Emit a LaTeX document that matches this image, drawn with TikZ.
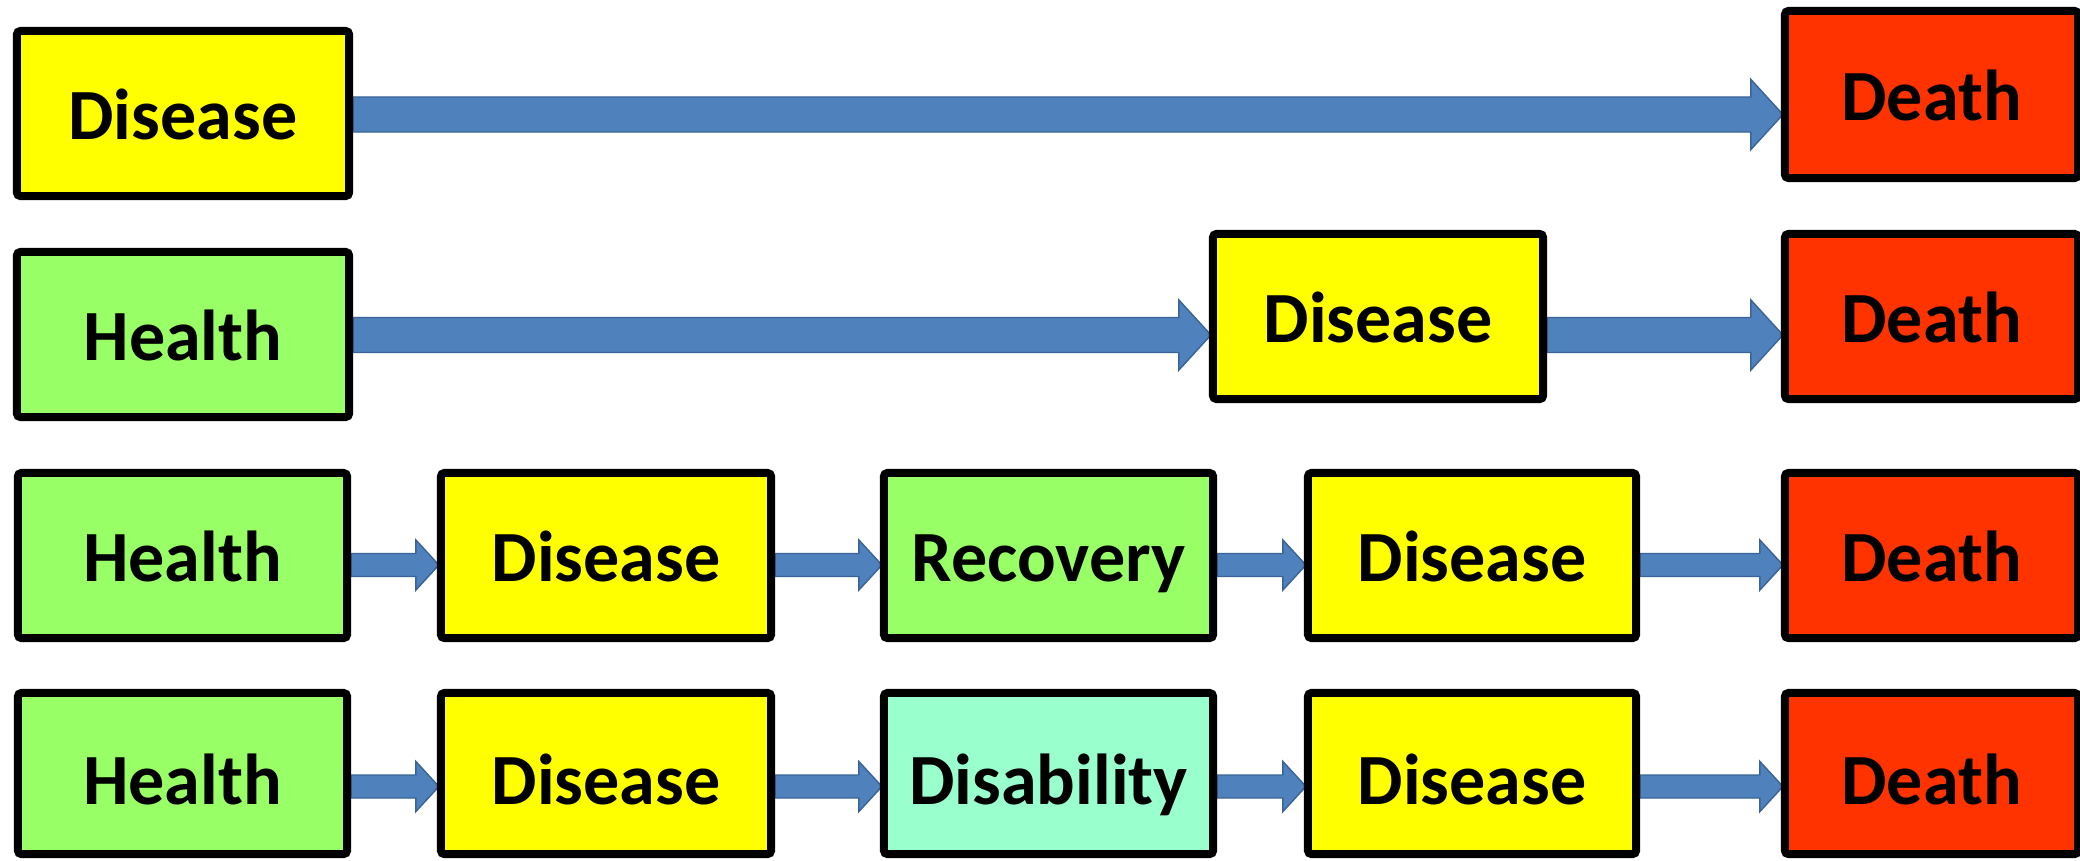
\documentclass[tikz,border=0pt]{standalone}
\usepackage{fontspec}
\setmainfont{Carlito}
\usetikzlibrary{calc}

\definecolor{boxyellow}{HTML}{FFFF00}
\definecolor{boxgreen}{HTML}{99FF66}
\definecolor{boxred}{HTML}{FF3300}
\definecolor{boxaqua}{HTML}{99FFCC}
\definecolor{arrowfill}{HTML}{4F81BD}
\definecolor{arrowline}{HTML}{3A6496}

% layers: white paper, then the block arrows, then the boxes
\pgfdeclarelayer{paper}
\pgfdeclarelayer{links}
\pgfsetlayers{paper,links,main}

\tikzset{
  stage/.style={draw=black, line width=0.08cm, rounded corners=1pt,
    inner sep=0pt, text=black,
    font=\fontsize{20.5pt}{24pt}\selectfont\bfseries,
    text height=14.9pt, text depth=0pt, minimum height=1.65cm},
  lowtext/.style={text height=17.8pt},
  yellowbox/.style={stage, fill=boxyellow},
  greenbox/.style={stage, fill=boxgreen},
  redbox/.style={stage, fill=boxred, minimum width=2.93cm},
  aquabox/.style={stage, fill=boxaqua},
  % wide block arrow (upper two rows)
  bigarrow/.style={fill=arrowfill, draw=arrowline, line width=0.4pt,
    line join=miter,
    to path={let \p1=(\tikztostart), \p2=(\tikztotarget) in
      (\x1,\y1+0.175cm) -- (\x2-0.30cm,\y1+0.175cm) -- (\x2-0.30cm,\y1+0.35cm)
      -- (\x2+0.02cm,\y1) -- (\x2-0.30cm,\y1-0.35cm) -- (\x2-0.30cm,\y1-0.175cm)
      -- (\x1,\y1-0.175cm) -- cycle}},
  % narrow block arrow (lower two rows)
  smallarrow/.style={fill=arrowfill, draw=arrowline, line width=0.4pt,
    line join=miter,
    to path={let \p1=(\tikztostart), \p2=(\tikztotarget) in
      (\x1,\y1+0.115cm) -- (\x2-0.21cm,\y1+0.115cm) -- (\x2-0.21cm,\y1+0.25cm)
      -- (\x2+0.02cm,\y1) -- (\x2-0.21cm,\y1-0.25cm) -- (\x2-0.21cm,\y1-0.115cm)
      -- (\x1,\y1-0.115cm) -- cycle}},
}

\begin{document}
\begin{tikzpicture}[x=0.01cm, y=-0.01cm]
  \useasboundingbox (0,0) rectangle (2080,860);
  \clip (0,0) rectangle (2080,860);
  \begin{pgfonlayer}{paper}
    \fill[white] (0,0) rectangle (2080,860);
  \end{pgfonlayer}

  % arrow levels of the four rows
  \coordinate (r1) at (0,114.5);
  \coordinate (r2) at (0,335);
  \coordinate (r3) at (0,565);
  \coordinate (r4) at (0,786.5);

  % row 1
  \node[yellowbox, minimum width=3.32cm] (dis1) at (183,113.5) {Disease};
  \node[redbox, minimum height=1.67cm] (dea1) at (1931.5,94.5) {Death};

  % row 2
  \node[greenbox, minimum width=3.32cm] (hea2) at (183,334.5) {Health};
  \node[yellowbox, minimum width=3.30cm] (dis2) at (1378,316.5) {Disease};
  \node[redbox] (dea2) at (1931.5,316.5) {Death};

  % row 3
  \node[greenbox, minimum width=3.29cm] (hea3) at (182.5,555.5) {Health};
  \node[yellowbox, minimum width=3.30cm] (dis3a) at (606,555.5) {Disease};
  \node[greenbox, minimum width=3.29cm] (rec3) at (1048.5,555.5) {Recovery};
  \node[yellowbox, minimum width=3.28cm] (dis3b) at (1472,555.5) {Disease};
  \node[redbox] (dea3) at (1931.5,555.5) {Death};

  % row 4
  \node[greenbox, lowtext, minimum width=3.29cm, minimum height=1.61cm] (hea4) at (182.5,773.5) {Health};
  \node[yellowbox, lowtext, minimum width=3.30cm, minimum height=1.61cm] (dis4a) at (606,773.5) {Disease};
  \node[aquabox, lowtext, minimum width=3.29cm, minimum height=1.61cm] (dsb4) at (1048.5,773.5) {Disability};
  \node[yellowbox, lowtext, minimum width=3.28cm, minimum height=1.61cm] (dis4b) at (1472,773.5) {Disease};
  \node[redbox, lowtext, minimum height=1.61cm] (dea4) at (1931.5,773.5) {Death};

  % block arrows, kept behind the boxes
  \begin{pgfonlayer}{links}
    \path[bigarrow] (dis1.east |- r1) to (dea1.west |- r1);
    \path[bigarrow] (hea2.east |- r2) to (dis2.west |- r2);
    \path[bigarrow] (dis2.east |- r2) to (dea2.west |- r2);

    \path[smallarrow] (hea3.east |- r3) to (dis3a.west |- r3);
    \path[smallarrow] (dis3a.east |- r3) to (rec3.west |- r3);
    \path[smallarrow] (rec3.east |- r3) to (dis3b.west |- r3);
    \path[smallarrow] (dis3b.east |- r3) to (dea3.west |- r3);

    \path[smallarrow] (hea4.east |- r4) to (dis4a.west |- r4);
    \path[smallarrow] (dis4a.east |- r4) to (dsb4.west |- r4);
    \path[smallarrow] (dsb4.east |- r4) to (dis4b.west |- r4);
    \path[smallarrow] (dis4b.east |- r4) to (dea4.west |- r4);
  \end{pgfonlayer}
\end{tikzpicture}
\end{document}
